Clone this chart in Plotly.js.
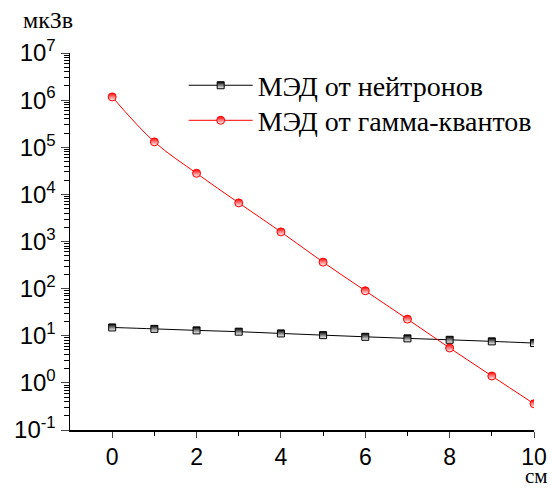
<!DOCTYPE html>
<html><head><meta charset="utf-8">
<script src="https://cdn.plot.ly/plotly-3.0.1.min.js"></script>
<style>html,body{margin:0;padding:0;background:#fff}#c{width:552px;height:489px}</style>
</head><body><div id="c"></div>
<script>
const xs = [0,1,2,3,4,5,6,7,8,9,10];
const neutrons = [15,14,13,12.2,11.2,10.3,9.5,8.8,8.2,7.6,7.0];
const gamma = [1.17e6,1.3e5,2.8e4,6.6e3,1.6e3,365,90,22.5,5.5,1.4,0.36];
const nameNeutrons = 'МЭД от нейтронов';
const nameGamma = 'МЭД от гамма-квантов';
const yTickVals = [1e-1,1e0,1e1,1e2,1e3,1e4,1e5,1e6,1e7];
const yTickText = ['10<sup>-1</sup>','10<sup>0</sup>','10<sup>1</sup>','10<sup>2</sup>','10<sup>3</sup>','10<sup>4</sup>','10<sup>5</sup>','10<sup>6</sup>','10<sup>7</sup>'];
const xTickVals = [0,2,4,6,8,10];
const yUnit = 'мкЗв';
const xUnit = 'см';

const minorY = [];
for (let e=-1;e<7;e++) for (let m=2;m<10;m++) minorY.push(m*Math.pow(10,e));

const legFont = {family:'Liberation Serif, Times New Roman, serif',size:28,color:'#000'};
const traces = [
 {x:xs,y:neutrons,name:nameNeutrons,legend:'legend',mode:'lines+markers',line:{color:'#000',width:1,shape:'spline'},
  marker:{symbol:'square',size:7,color:'#000',gradient:{type:'vertical',color:'#fff'},line:{color:'#000',width:1}}},
 {x:xs,y:gamma,name:nameGamma,legend:'legend2',mode:'lines+markers',line:{color:'#ff0000',width:1,shape:'spline'},
  marker:{symbol:'circle',size:8,color:'#ff0000',gradient:{type:'vertical',color:'#fff'},line:{color:'#ff0000',width:1}}}
];
const layout = {
 width:552,height:489,margin:{l:70,r:18,t:53,b:59},
 paper_bgcolor:'#fff',plot_bgcolor:'#fff',showlegend:true,
 font:{family:'Liberation Sans, Arial, sans-serif',color:'#000'},
 xaxis:{range:[-1,10],tickvals:xTickVals,ticks:'outside',ticklen:6,tickwidth:1,showgrid:false,zeroline:false,
   showline:true,linecolor:'#000',linewidth:1.5,tickfont:{size:23,family:'Liberation Sans, Arial, sans-serif'},
   minor:{tickvals:[1,3,5,7,9],ticks:'outside',ticklen:4,tickcolor:'#000',showgrid:false}},
 yaxis:{type:'log',range:[-1,7],tickvals:yTickVals,ticktext:yTickText,ticks:'outside',ticklen:8,tickwidth:1,showgrid:false,zeroline:false,
   showline:true,linecolor:'#000',linewidth:1.5,tickfont:{size:24,family:'Liberation Sans, Arial, sans-serif'},
   minor:{tickvals:minorY,ticks:'outside',ticklen:5,tickcolor:'#000',showgrid:false}},
 legend:{x:0.245,y:0.980,xanchor:'left',yanchor:'top',bgcolor:'rgba(0,0,0,0)',itemwidth:64,font:legFont},
 legend2:{x:0.245,y:0.887,xanchor:'left',yanchor:'top',bgcolor:'rgba(0,0,0,0)',itemwidth:64,font:legFont},
 annotations:[
  {text:yUnit,xref:'paper',yref:'paper',x:0,y:1.0,xanchor:'right',yanchor:'bottom',yshift:18,xshift:5,showarrow:false,
   font:{family:'Liberation Serif, Times New Roman, serif',size:24,color:'#000'}},
  {text:xUnit,xref:'paper',yref:'paper',x:1.0,y:0,xanchor:'center',yanchor:'bottom',yshift:-59,xshift:2,showarrow:false,borderpad:0,
   font:{family:'Liberation Serif, Times New Roman, serif',size:21,color:'#000'}}
 ]
};
Plotly.newPlot('c',traces,layout,{displayModeBar:false,staticPlot:true});
</script></body></html>
